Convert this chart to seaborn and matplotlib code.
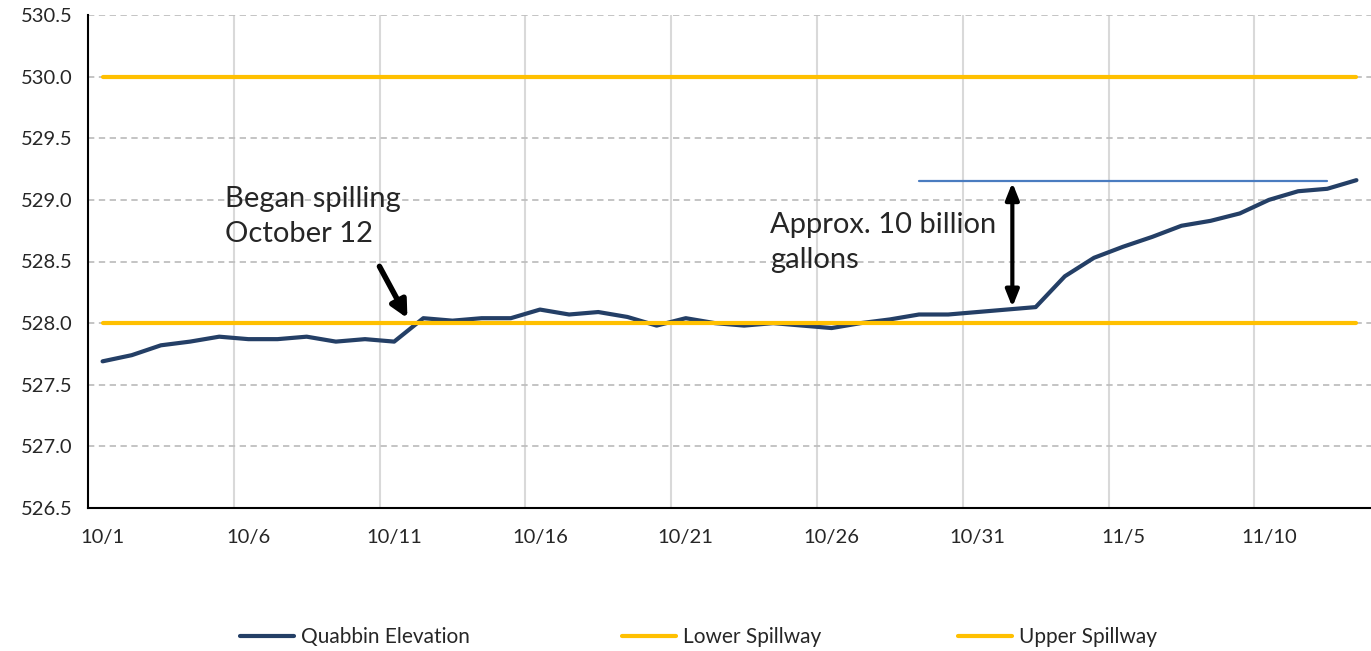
# Quabbin reservoir elevation vs spillway levels, Oct-Nov
import numpy as np
import matplotlib
matplotlib.use('Agg')
import matplotlib.pyplot as plt
import pandas as pd
import seaborn as sns

# data
dates = pd.date_range('2018-10-01', '2018-11-13', freq='D')
quabbin_elevation = [527.69, 527.74, 527.82, 527.85, 527.89, 527.87, 527.87, 527.89, 527.85, 527.87,
                     527.85, 528.04, 528.02, 528.04, 528.04, 528.11, 528.07, 528.09, 528.05, 527.98,
                     528.04, 528.00, 527.98, 528.00, 527.98, 527.96, 528.00, 528.03, 528.07, 528.07,
                     528.09, 528.11, 528.13, 528.38, 528.53, 528.62, 528.70, 528.79, 528.83, 528.89,
                     529.00, 529.07, 529.09, 529.16]
lower_spillway = [528.0] * len(dates)
upper_spillway = [530.0] * len(dates)
ref_level = 529.15            # thin blue reference line
ref_start, ref_end = 28, 42   # day index where it starts / stops
y_ticks = [526.5, 527.0, 527.5, 528.0, 528.5, 529.0, 529.5, 530.0, 530.5]

df = pd.DataFrame({'day': np.arange(len(dates)),
                   'Quabbin Elevation': quabbin_elevation,
                   'Lower Spillway': lower_spillway,
                   'Upper Spillway': upper_spillway})
labels = [f'{d.month}/{d.day}' for d in dates]

sns.set_style('white')
plt.rcParams['font.family'] = ['Lato', 'DejaVu Sans']

fig = plt.figure(figsize=(13.71, 6.51), dpi=100)
ax = fig.add_axes([88/1371, 143/651, 1283/1371, 493/651])

navy = '#243F66'
gold = '#FFC000'
sns.lineplot(data=df, x='day', y='Quabbin Elevation', ax=ax, color=navy, lw=3,
             label='Quabbin Elevation', zorder=3)
sns.lineplot(data=df, x='day', y='Lower Spillway', ax=ax, color=gold, lw=3,
             label='Lower Spillway', zorder=4)
sns.lineplot(data=df, x='day', y='Upper Spillway', ax=ax, color=gold, lw=3,
             label='Upper Spillway', zorder=4)

# reference line for the stored volume
ax.plot([ref_start, ref_end], [ref_level, ref_level], color='#4A7CC0', lw=1.6, zorder=3)

ax.set_xlim(-0.5, len(dates) - 0.5)
ax.set_ylim(526.5, 530.5)
ax.set_yticks(y_ticks)
ax.set_yticklabels([f'{v:.1f}' for v in y_ticks], fontsize=14.5)

# ticks/gridlines between categories, labels on every 5th day
ax.set_xticks(np.arange(-0.5, len(dates), 5))
ax.set_xticklabels([])
ax.set_xticks(np.arange(0, len(dates), 5), minor=True)
ax.set_xticklabels(labels[::5], minor=True, fontsize=14.5)
ax.tick_params(axis='x', which='major', length=6, width=1.5, direction='out', color='black')
ax.tick_params(axis='x', which='minor', length=0, pad=15)
ax.tick_params(axis='y', length=6, width=1.5, direction='out', color='black', pad=5)

ax.grid(False)
for xv in np.arange(4.5, len(dates), 5):
    ax.axvline(xv, color='#D9D9D9', lw=1.5, zorder=1)
for yv in y_ticks[1:]:
    ax.axhline(yv, color='#BFBFBF', lw=1.3, ls=(0, (3.5, 2.5)), zorder=1)

for s in ['top', 'right']:
    ax.spines[s].set_visible(False)
for s in ['left', 'bottom']:
    ax.spines[s].set_color('black')
    ax.spines[s].set_linewidth(1.5)
ax.set_xlabel('')
ax.set_ylabel('')

# annotations
ax.text(4.2, 529.11, 'Began spilling\nOctober 12', fontsize=21, va='top', ha='left',
        linespacing=1.4)
ax.annotate('', xy=(10.5, 528.02), xytext=(9.45, 528.48),
            arrowprops=dict(arrowstyle='-|>,head_length=1.0,head_width=0.5', color='black', lw=4))
ax.text(22.9, 528.9, 'Approx. 10 billion\ngallons', fontsize=21, va='top', ha='left',
        linespacing=1.4)
ax.annotate('', xy=(31.2, 529.14), xytext=(31.2, 528.13),
            arrowprops=dict(arrowstyle='<|-|>,head_length=1.0,head_width=0.4', color='black', lw=3,
                            shrinkA=0, shrinkB=0))

ax.get_legend().remove()
h, l = ax.get_legend_handles_labels()
legend_x = [240, 622, 958]
for hi, li, xi in zip(h, l, legend_x):
    fig.legend([hi], [li], loc='center left', bbox_to_anchor=(xi/1371, 1 - 637/651),
               frameon=False, fontsize=15, handlelength=2.6, handletextpad=0.35,
               borderpad=0, borderaxespad=0)

fig.savefig('out.png', dpi=100)
